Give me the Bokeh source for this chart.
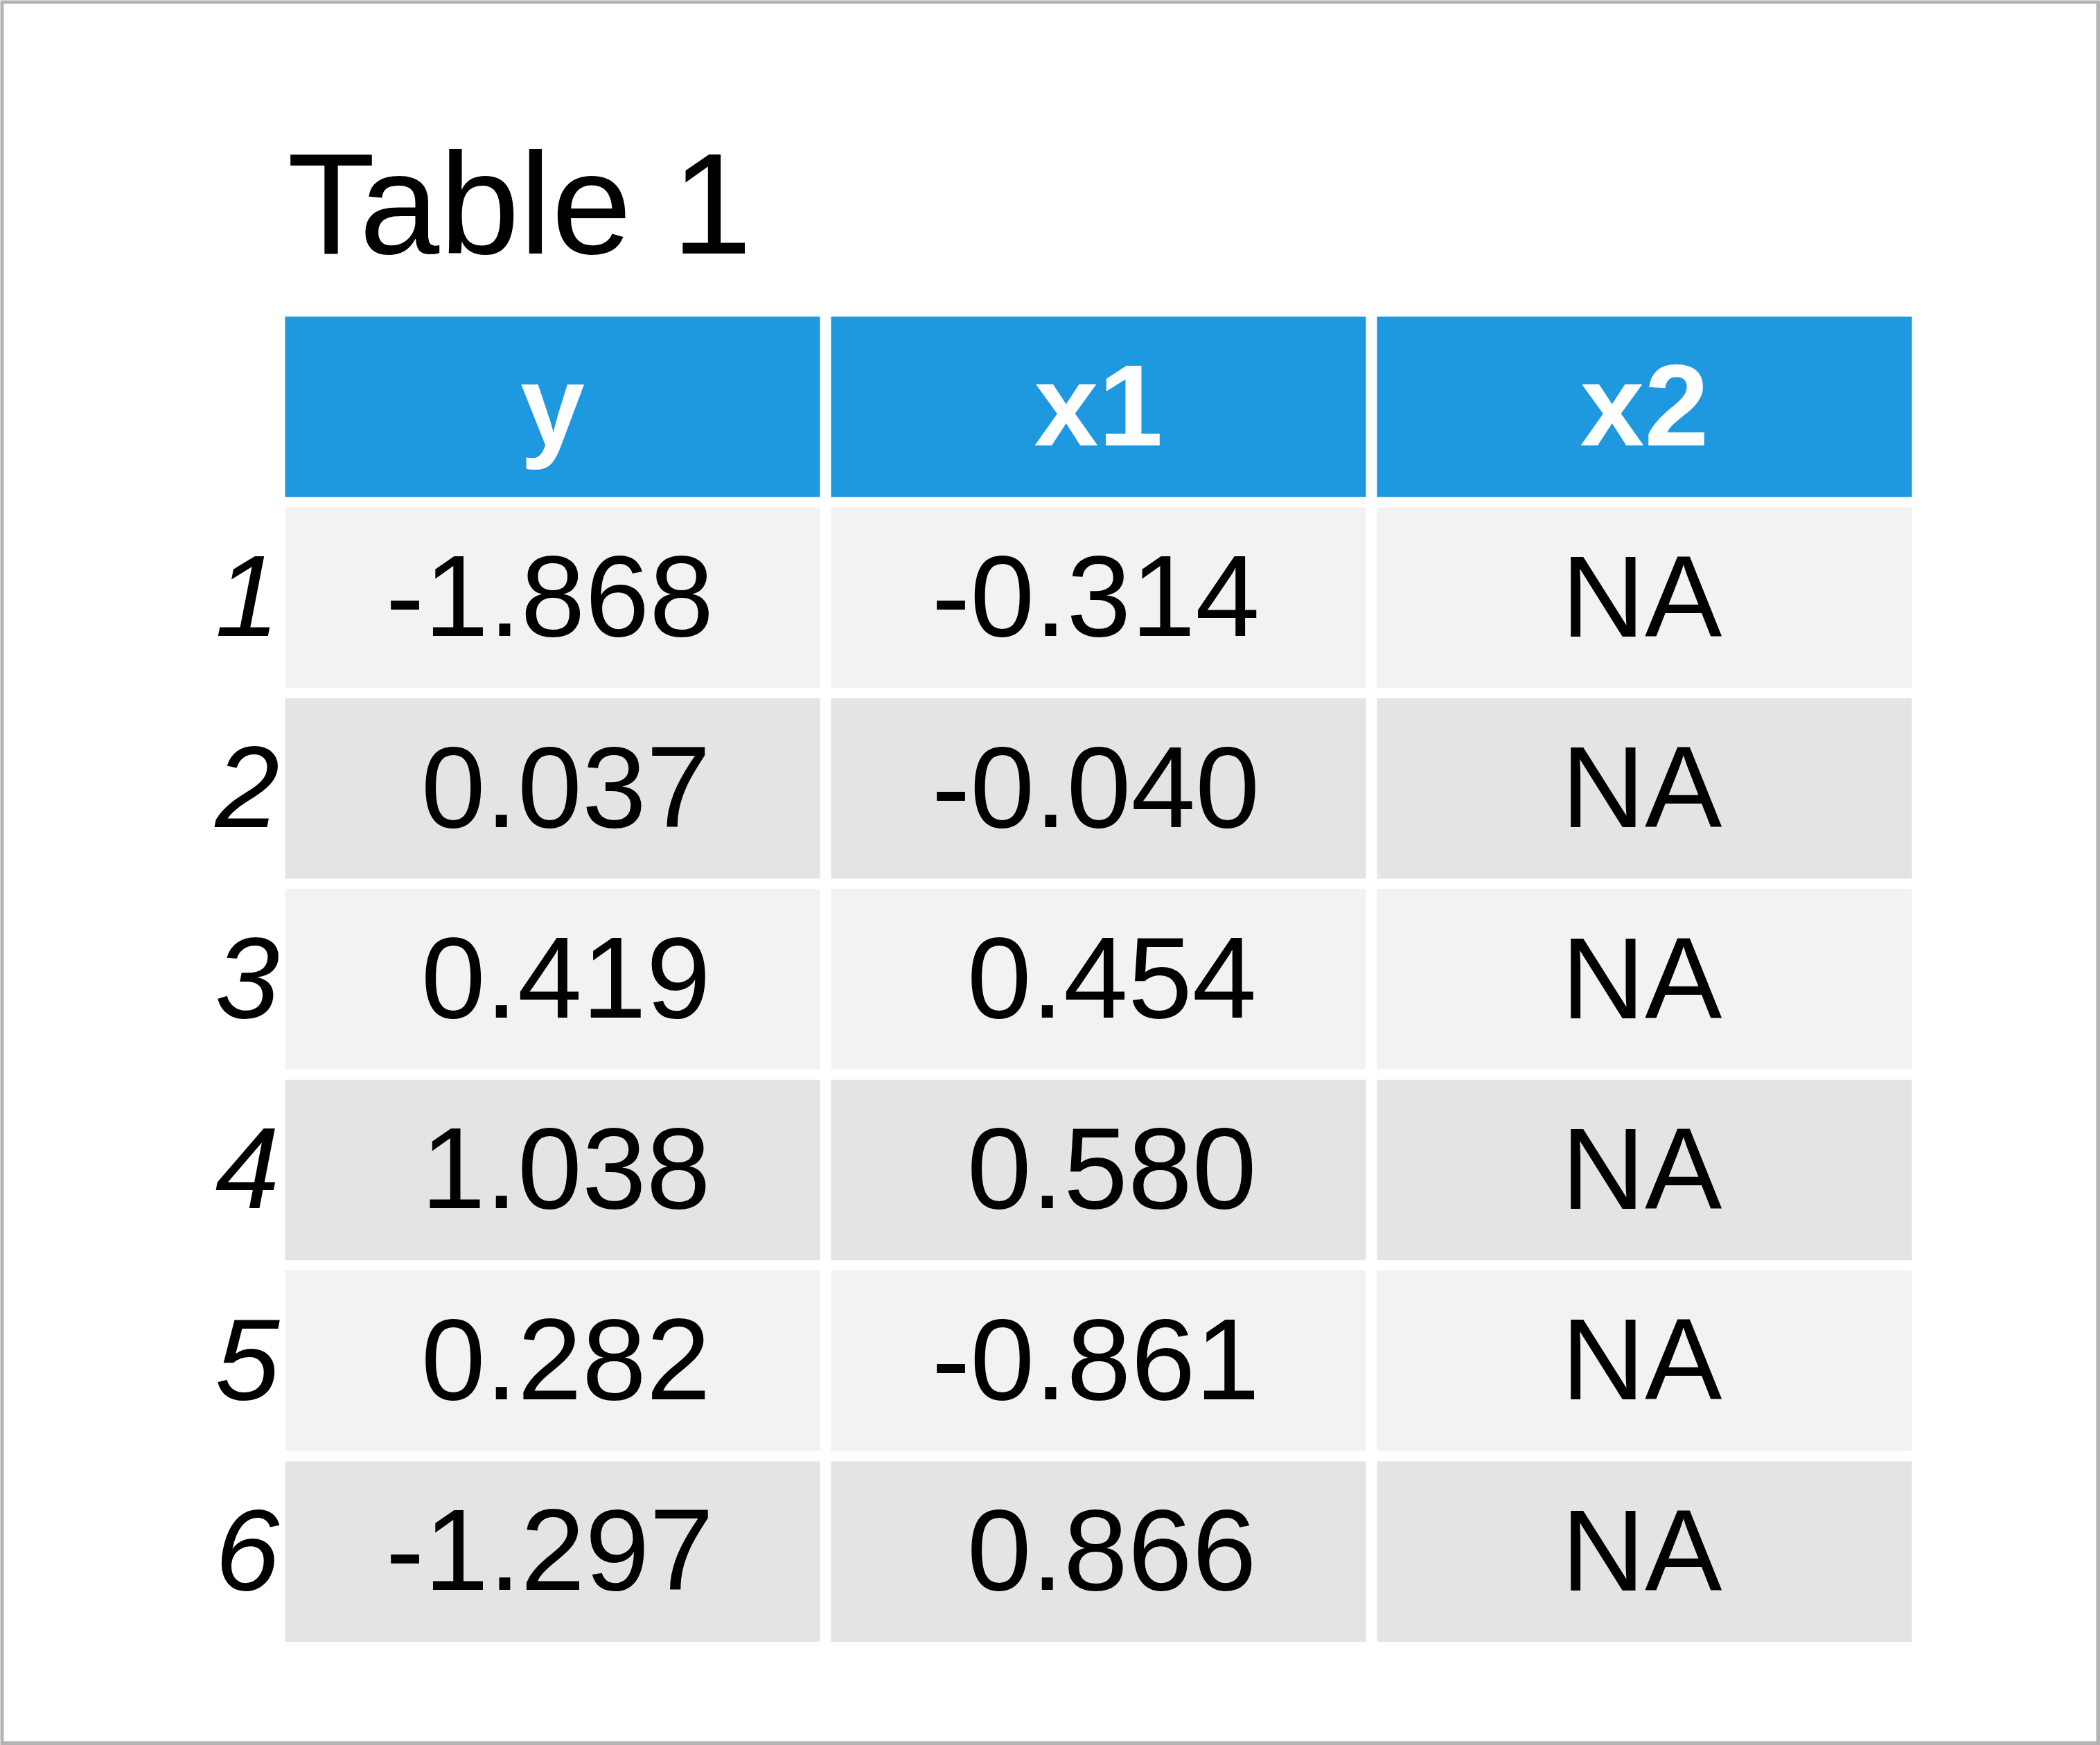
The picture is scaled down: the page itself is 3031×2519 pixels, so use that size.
from bokeh.plotting import figure
from bokeh.models import Range1d, ColumnDataSource
from bokeh.embed import file_html
from bokeh.resources import INLINE
from bokeh.core.properties import value

# ---- data ----
title = "Table 1"
columns = ["y", "x1", "x2"]
row_names = ["1", "2", "3", "4", "5", "6"]
y_vals = [-1.868, 0.037, 0.419, 1.038, 0.282, -1.297]
x1_vals = [-0.314, -0.040, 0.454, 0.580, -0.861, 0.866]
x2_vals = [None, None, None, None, None, None]

# ---- style / layout ----
W, H = 3031, 2519
FONT = "Liberation Sans"
HEADER_COLOR = "#1E98DF"
ROW_COLORS = ["#F2F2F2", "#E4E4E4"]
BORDER_COLOR = "#B3B3B3"

col_left0, col_w, col_step = 411, 772, 788
row_top0, row_h, row_step = 456.6, 260.5, 275.4
FS = 167
TFS = 208
BASE_FIX = 0.37  # correction of the rendered baseline position
X_FIX = -4       # small horizontal correction of cell text

# advance widths (em) of Arial-metric glyphs, for R-style padded alignment
CHAR_W = {"-": 0.333, ".": 0.278, " ": 0.278, "N": 0.722, "A": 0.667}
for d in "0123456789":
    CHAR_W[d] = 0.556

def fmt(v):
    return "NA" if v is None else f"{v:.3f}"

def text_w(s):
    return sum(CHAR_W.get(ch, 0.556) for ch in s) * FS

p = figure(width=W, height=H, output_backend="svg", toolbar_location=None,
           x_range=Range1d(0, W), y_range=Range1d(H, 0), min_border=0,
           margin=(0, 0, 0, 0))
p.axis.visible = False
p.grid.visible = False
p.outline_line_color = None
p.background_fill_color = BORDER_COLOR
p.border_fill_color = BORDER_COLOR

# white page with gray frame
p.quad(left=[5], right=[W - 6], top=[5], bottom=[H - 6], fill_color="white", line_color=None)

def base(center, fs):
    return center + 0.358 * fs - BASE_FIX * fs

# header cells
hl = [col_left0 + i * col_step for i in range(len(columns))]
p.quad(left=hl, right=[l + col_w for l in hl], top=[row_top0] * 3,
       bottom=[row_top0 + row_h] * 3, fill_color=HEADER_COLOR, line_color=None)
p.text(x=[l + col_w / 2 for l in hl], y=[base(row_top0 + row_h / 2, FS)] * 3,
       text=columns, text_font=value(FONT), text_font_size=f"{FS}px",
       text_font_style="bold", text_color="white", text_align="center",
       text_baseline="alphabetic")

# body cells
series = [y_vals, x1_vals, x2_vals]
L, R, T, B, C, X, Y, TXT = [], [], [], [], [], [], [], []
for c in range(len(columns)):
    strs = [fmt(v) for v in series[c]]
    n = max(len(s) for s in strs)
    l = col_left0 + c * col_step
    center = l + col_w / 2
    for r in range(len(row_names)):
        top = row_top0 + (r + 1) * row_step
        L.append(l); R.append(l + col_w); T.append(top); B.append(top + row_h)
        C.append(ROW_COLORS[r % 2])
        # padded string (as R's format) centred -> right edge of visible text
        X.append(center + text_w(strs[r].rjust(n)) / 2 + X_FIX)
        Y.append(base(top + row_h / 2, FS))
        TXT.append(strs[r])
p.quad(source=ColumnDataSource(dict(left=L, right=R, top=T, bottom=B, color=C)),
       left="left", right="right", top="top", bottom="bottom",
       fill_color="color", line_color=None)
p.text(x=X, y=Y, text=TXT, text_font=value(FONT), text_font_size=f"{FS}px",
       text_color="black", text_align="right", text_baseline="alphabetic")

# row names
ry = [base(row_top0 + (r + 1) * row_step + row_h / 2, FS) for r in range(len(row_names))]
p.text(x=[403] * len(row_names), y=ry, text=row_names, text_font=value(FONT),
       text_font_size=f"{FS}px", text_font_style="italic", text_color="black",
       text_align="right", text_baseline="alphabetic")

# title
p.text(x=[414], y=[370 - BASE_FIX * TFS], text=[title], text_font=value(FONT),
       text_font_size=f"{TFS}px", text_color="black", text_align="left",
       text_baseline="alphabetic")

open("out.html", "w").write(file_html(p, INLINE))
